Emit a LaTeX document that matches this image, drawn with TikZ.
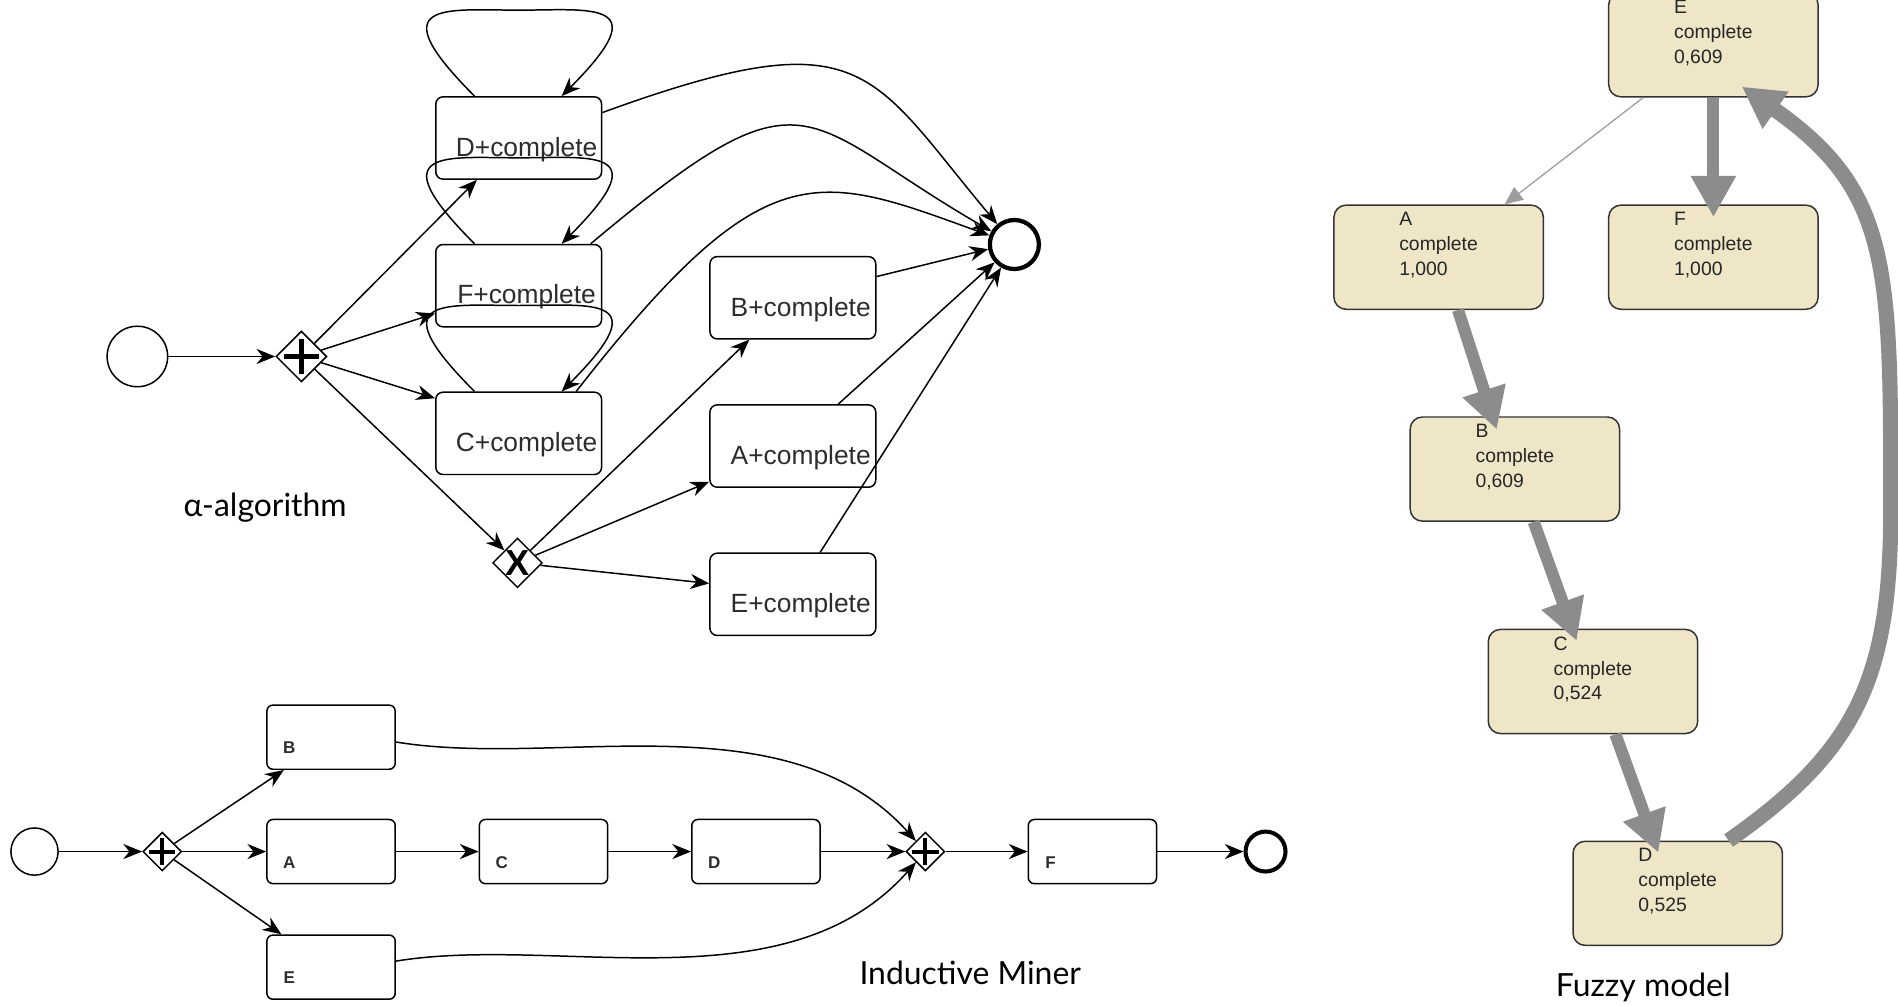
\documentclass[tikz,border=0pt]{standalone}
\usepackage{fontspec}
\setmainfont{Liberation Sans}
\newfontfamily\capfont{Lato}
\usepackage{tikz}
\usetikzlibrary{arrows.meta, shapes.geometric}

\definecolor{fzfill}{RGB}{239,229,199}
\definecolor{fzarrow}{RGB}{140,140,140}
\definecolor{txtgray}{RGB}{45,45,45}

\begin{document}
\begin{tikzpicture}[>={Stealth[length=0.31cm,width=0.25cm]}, line width=0.7pt,
    task/.style={draw, rounded corners=0.12cm, minimum width=2.74cm, minimum height=1.36cm, inner sep=0pt},
    tasktxt/.style={text=txtgray, font=\fontsize{12.4}{14}\selectfont, xshift=0.13cm, yshift=-0.19cm},
    itask/.style={draw, rounded corners=0.1cm, minimum width=2.12cm, minimum height=1.06cm, inner sep=0pt},
    itxt/.style={text=txtgray, font=\fontsize{8}{9}\selectfont\bfseries, xshift=-0.69cm, yshift=-0.18cm},
    startev/.style={draw, circle, inner sep=0pt},
    endev/.style={draw, circle, inner sep=0pt, line width=2pt},
    gate/.style={draw, diamond, inner sep=0pt, fill=white},
    gwand/.style 2 args={gate, minimum size=#1,
      path picture={\draw[line width=#2]
        ([xshift=-0.34*#1]path picture bounding box.center) -- ([xshift=0.34*#1]path picture bounding box.center)
        ([yshift=-0.34*#1]path picture bounding box.center) -- ([yshift=0.34*#1]path picture bounding box.center);}},
    fzbox/.style={draw=black!80, fill=fzfill, rounded corners=0.2cm, minimum width=3.46cm, minimum height=1.72cm, inner sep=0pt},
    fztxt/.style={anchor=north west, align=left, inner sep=0pt, text=black!85,
      font=\fontsize{9.1}{11.7}\selectfont, xshift=1.08cm, yshift=-0.12cm},
    fzthick/.style={draw=fzarrow, line width=0.2cm, -{Triangle[width=0.7cm,length=0.68cm]}},
    fzthin/.style={draw=fzarrow!85, line width=0.6pt, -{Triangle[width=0.26cm,length=0.3cm]}},
    caption/.style={anchor=base, inner sep=0pt, font=\capfont\fontsize{15}{17}\selectfont}]
    \useasboundingbox (0,0) rectangle (31.36,16.62);
    \clip (0,0) rectangle (31.36,16.62);

    % alpha-algorithm
    \node[startev, minimum size=1.0cm] (startA) at (2.27,10.73) {};
    \node[gwand={0.84cm}{0.09cm}] (plusA) at (4.98,10.73) {};
    \node[task, label={[tasktxt]center:D+complete}] (aD) at (8.57,14.34) {};
    \node[task, label={[tasktxt]center:F+complete}] (aF) at (8.57,11.90) {};
    \node[task, label={[tasktxt]center:C+complete}] (aC) at (8.57,9.46) {};
    \node[gate, minimum size=0.82cm, label={[font=\fontsize{17}{17}\selectfont\bfseries]center:X}] (xorA) at (8.55,7.32) {};
    \node[task, label={[tasktxt]center:B+complete}] (aB) at (13.10,11.70) {};
    \node[task, label={[tasktxt]center:A+complete}] (aA) at (13.10,9.25) {};
    \node[task, label={[tasktxt]center:E+complete}] (aE) at (13.10,6.80) {};
    \node[endev, minimum size=0.81cm] (endA) at (16.76,12.58) {};
    \node[caption] (capA) at (4.38,8.08) {α-algorithm};

    \draw[->] (startA) -- (plusA);
    \draw[->] (plusA) -- ([xshift=-0.69cm]aD.south);
    \draw[->] (plusA) -- ([yshift=-0.46cm]aF.west);
    \draw[->] (plusA) -- ([yshift=0.58cm]aC.west);
    \draw[->] (plusA) -- (xorA);
    \draw[->] (xorA) -- ([xshift=-0.72cm]aB.south);
    \draw[->] (xorA) -- ([yshift=-0.59cm]aA.west);
    \draw[->] (xorA) -- ([yshift=0.18cm]aE.west);
    \foreach \n in {aD,aF,aC}
        \draw[->] ([xshift=-0.73cm]\n.north) .. controls +(-1.6,1.6) and +(-1.2,0) .. ([yshift=1.42cm]\n.north)
            .. controls +(1.2,0) and +(1.6,1.6) .. ([xshift=0.71cm]\n.north);
    \draw[->] ([yshift=0.42cm]aD.east) to[out=20, in=130, out looseness=1.75, in looseness=1.25] (endA);
    \draw[->] ([xshift=1.19cm]aF.north) to[out=40, in=150, out looseness=1.83, in looseness=1.43] (endA);
    \draw[->] ([xshift=0.95cm]aC.north) to[out=52, in=160, out looseness=1.78, in looseness=1.07] (endA);
    \draw[->] ([yshift=0.35cm]aB.east) -- (endA.190);
    \draw[->] ([xshift=0.75cm]aA.north) -- (endA.222);
    \draw[->] ([xshift=0.45cm]aE.north) -- (endA.240);

    % Inductive Miner
    \node[startev, minimum size=0.78cm] (startI) at (0.57,2.55) {};
    \node[gwand={0.64cm}{0.065cm}] (plusI1) at (2.68,2.55) {};
    \node[itask, label={[itxt]center:B}] (iB) at (5.47,4.44) {};
    \node[itask, label={[itxt]center:A}] (iA) at (5.47,2.55) {};
    \node[itask, label={[itxt]center:E}] (iE) at (5.47,0.64) {};
    \node[itask, label={[itxt]center:C}] (iC) at (8.98,2.55) {};
    \node[itask, label={[itxt]center:D}] (iD) at (12.49,2.55) {};
    \node[gwand={0.64cm}{0.065cm}] (plusI2) at (15.29,2.55) {};
    \node[itask, label={[itxt]center:F}] (iF) at (18.05,2.55) {};
    \node[endev, line width=1.9pt, minimum size=0.66cm] (endI) at (20.91,2.55) {};
    \node[caption] (capI) at (16.03,0.35) {Inductive Miner};

    \draw[->] (startI) -- (plusI1);
    \draw[->] (plusI1) -- ([xshift=-0.78cm]iB.south);
    \draw[->] (plusI1) -- (iA);
    \draw[->] (plusI1) -- ([xshift=-0.82cm]iE.north);
    \draw[->] (iA) -- (iC);
    \draw[->] (iC) -- (iD);
    \draw[->] (iD) -- (plusI2);
    \draw[->] (plusI2) -- (iF);
    \draw[->] (iF) -- (endI);
    \draw[->] ([yshift=-0.08cm]iB.east) .. controls +(2.68,-0.44) and +(-2.29,2.55) .. (plusI2);
    \draw[->] ([yshift=0.1cm]iE.east) .. controls +(2.68,0.44) and +(-2.29,-2.59) .. (plusI2);

    % Fuzzy model
    \node[fzbox, label={[fztxt]north west:{E\\complete\\0,609}}] (fE) at (28.31,15.88) {};
    \node[fzbox, label={[fztxt]north west:{A\\complete\\1,000}}] (fA) at (23.77,12.37) {};
    \node[fzbox, label={[fztxt]north west:{F\\complete\\1,000}}] (fF) at (28.31,12.37) {};
    \node[fzbox, label={[fztxt]north west:{B\\complete\\0,609}}] (fB) at (25.03,8.87) {};
    \node[fzbox, label={[fztxt]north west:{C\\complete\\0,524}}] (fC) at (26.32,5.36) {};
    \node[fzbox, label={[fztxt]north west:{D\\complete\\0,525}}] (fD) at (27.72,1.86) {};
    \node[caption] (capF) at (27.15,0.16) {Fuzzy model};

    \draw[fzthin] ([xshift=-1.16cm]fE.south) -- ([xshift=1.09cm]fA.north);
    \draw[fzthick] (fE.south) -- ([yshift=-0.21cm]fF.north);
    \draw[fzthick] ([xshift=0.32cm]fA.south) -- ([xshift=-0.3cm,yshift=-0.22cm]fB.north);
    \draw[fzthick] ([xshift=0.31cm]fB.south) -- ([xshift=-0.27cm,yshift=-0.2cm]fC.north);
    \draw[fzthick] ([xshift=0.37cm]fC.south) -- ([xshift=-0.32cm,yshift=-0.2cm]fD.north);
    \draw[fzthick, line width=0.25cm] ([xshift=0.84cm]fD.north) .. controls +(2.13,1.49) and +(0,-2.8) .. (31.24,8.22)
        .. controls +(0,4) and +(2.46,-1.72) .. ([xshift=0.47cm,yshift=0.18cm]fE.south);
\end{tikzpicture}
\end{document}
